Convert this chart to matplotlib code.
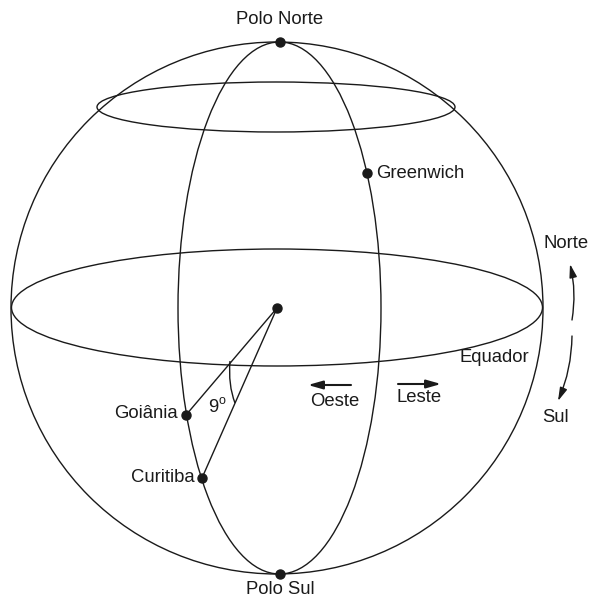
import numpy as np
import matplotlib
matplotlib.use("Agg")
import matplotlib.pyplot as plt
from matplotlib.patches import Ellipse, Circle, FancyArrowPatch, PathPatch
from matplotlib.path import Path

plt.rcParams['font.family'] = ['Liberation Sans', 'DejaVu Sans']

# Diagram geometry (pixel space of the reference)
sphere = dict(cx=277, cy=308, r=266)
meridian = dict(cx=279.5, cy=308, a=101.5, b=266)
equator = dict(cx=277, cy=307.5, a=265.5, b=58.5)
parallel = dict(cx=276, cy=107, a=179, b=25)

place_names = ["Polo Norte", "Polo Sul", "Greenwich", "Goiânia", "Curitiba"]
place_x = [280, 280, 367, 186, 202]
place_y = [42, 574, 173, 415, 478]
center = (277, 308)

fig = plt.figure(figsize=(5.89, 6.01), dpi=100)
ax = fig.add_axes([0, 0, 1, 1])
ax.set_xlim(0, 589)
ax.set_ylim(601, 0)
ax.axis('off')

lw = 1.0
col = '#1a1a1a'
ax.add_patch(Circle((sphere['cx'], sphere['cy']), sphere['r'], fill=False, lw=lw, ec=col))
for e in (meridian, equator, parallel):
    ax.add_patch(Ellipse((e['cx'], e['cy']), 2 * e['a'], 2 * e['b'], fill=False, lw=lw, ec=col))

# lines from center to Goiania and Curitiba
for i in (3, 4):
    ax.plot([center[0], place_x[i]], [center[1], place_y[i]], color=col, lw=lw)

# angle arc
verts = [(230, 361), (228, 385), (235, 403)]
ax.add_patch(PathPatch(Path(verts, [Path.MOVETO, Path.CURVE3, Path.CURVE3]),
                       fill=False, lw=lw, ec=col))

# dots
ax.plot(place_x, place_y, 'o', color=col, ms=6.5, zorder=5)
ax.plot([center[0]], [center[1]], 'o', color=col, ms=6.5, zorder=5)

fs = 13.3
ax.text(280, 20, "Polo Norte", ha='center', va='center', fontsize=fs, color=col)
ax.text(280, 590, "Polo Sul", ha='center', va='center', fontsize=fs, color=col)
ax.text(376, 174, "Greenwich", ha='left', va='center', fontsize=fs, color=col)
ax.text(178, 413, "Goiânia", ha='right', va='center', fontsize=fs, color=col)
ax.text(195, 478, "Curitiba", ha='right', va='center', fontsize=fs, color=col)
ax.text(494, 358, "Equador", ha='center', va='center', fontsize=fs, color=col)
ax.text(335, 401, "Oeste", ha='center', va='center', fontsize=fs, color=col)
ax.text(419, 398, "Leste", ha='center', va='center', fontsize=fs, color=col)
ax.text(566, 244, "Norte", ha='center', va='center', fontsize=fs, color=col)
ax.text(556, 418, "Sul", ha='center', va='center', fontsize=fs, color=col)
ax.text(213, 408, "9", ha='center', va='center', fontsize=fs, color=col)
ax.text(222, 401, "o", ha='center', va='center', fontsize=9, color=col)

astyle = "-|>,head_length=3.5,head_width=1.0"
ax.add_patch(FancyArrowPatch((351, 385), (308, 385), arrowstyle=astyle,
                             color=col, lw=1.5, mutation_scale=2.5, shrinkA=0, shrinkB=0))
ax.add_patch(FancyArrowPatch((398, 384), (441, 384), arrowstyle=astyle,
                             color=col, lw=1.5, mutation_scale=2.5, shrinkA=0, shrinkB=0))
astyle2 = "-|>,head_length=3.2,head_width=0.9"
ax.add_patch(FancyArrowPatch((572, 320), (570, 264), arrowstyle=astyle2,
                             connectionstyle="arc3,rad=0.1",
                             color=col, lw=1.0, mutation_scale=2.5, shrinkA=0, shrinkB=0))
ax.add_patch(FancyArrowPatch((572, 336), (558, 401), arrowstyle=astyle2,
                             connectionstyle="arc3,rad=-0.1",
                             color=col, lw=1.0, mutation_scale=2.5, shrinkA=0, shrinkB=0))

fig.savefig("out.png", dpi=100)
